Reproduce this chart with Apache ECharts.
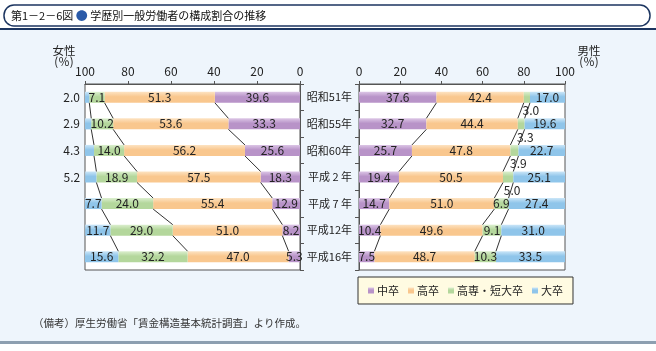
<!DOCTYPE html>
<html>
<head>
<meta charset="utf-8">
<script src="https://cdn.jsdelivr.net/npm/echarts@6/dist/echarts.min.js"></script>
<style>
  html, body { margin: 0; padding: 0; background: #fff; }
  #chart { width: 656px; height: 351px; }
</style>
</head>
<body>
<div id="chart"></div>
<script>
// rows, top to bottom
var categories = ['昭和51年', '昭和55年', '昭和60年', '平成 2 年', '平成 7 年', '平成12年', '平成16年'];
var seriesNames = ['中卒', '高卒', '高専・短大卒', '大卒'];

// 女性 (%)
var femaleJunior  = [39.6, 33.3, 25.6, 18.3, 12.9, 8.2, 5.3];
var femaleHigh    = [51.3, 53.6, 56.2, 57.5, 55.4, 51.0, 47.0];
var femaleCollege = [7.1, 10.2, 14.0, 18.9, 24.0, 29.0, 32.2];
var femaleUniv    = [2.0, 2.9, 4.3, 5.2, 7.7, 11.7, 15.6];

// 男性 (%)
var maleJunior  = [37.6, 32.7, 25.7, 19.4, 14.7, 10.4, 7.5];
var maleHigh    = [42.4, 44.4, 47.8, 50.5, 51.0, 49.6, 48.7];
var maleCollege = [3.0, 3.3, 3.9, 5.0, 6.9, 9.1, 10.3];
var maleUniv    = [17.0, 19.6, 22.7, 25.1, 27.4, 31.0, 33.5];

var colors = ['#b893c8', '#f9c78e', '#b4d79c', '#8fc5ea'];
var lightColors = ['#dcc6e6', '#fde3c2', '#dcefcf', '#cbe6f8'];
var barH = 11;

function barColor(k) {
    return new echarts.graphic.LinearGradient(0, 0, 0, 1, [
        { offset: 0, color: lightColors[k] },
        { offset: 0.45, color: colors[k] },
        { offset: 1, color: colors[k] }
    ]);
}

// narrow bars get their label moved outside
function withLabels(values, outsidePos, limit) {
    return values.map(function (v) {
        if (outsidePos && v < limit) {
            return { value: v, label: outsidePos };
        }
        return v;
    });
}

function barSeries(name, k, values, axis, stack, outsidePos) {
    return {
        name: name,
        type: 'bar',
        stack: stack,
        xAxisIndex: axis,
        yAxisIndex: axis,
        barWidth: barH,
        data: withLabels(values, outsidePos, 6),
        itemStyle: { color: barColor(k) },
        label: {
            show: true,
            position: 'inside',
            color: '#222',
            fontSize: 12,
            fontFamily: 'Noto Sans CJK JP',
            formatter: function (p) { return Number(p.value).toFixed(1); }
        },
        emphasis: { disabled: true }
    };
}

// boundaries between stacked parts, for connector lines
function connectorData(parts) {
    var out = [];
    var n = parts[0].length;
    for (var k = 1; k < parts.length; k++) {
        var cum = [];
        for (var i = 0; i < n; i++) {
            var s = 0;
            for (var j = 0; j < k; j++) s += parts[j][i];
            cum.push(s);
        }
        for (var i = 0; i < n - 1; i++) {
            out.push([cum[i], i, cum[i + 1], i + 1]);
        }
    }
    return out;
}

function connectorSeries(parts, axis) {
    return {
        type: 'custom',
        xAxisIndex: axis,
        yAxisIndex: axis,
        silent: true,
        data: connectorData(parts),
        encode: { x: [0, 2], y: [1, 3] },
        renderItem: function (params, api) {
            var a = api.coord([api.value(0), api.value(1)]);
            var b = api.coord([api.value(2), api.value(3)]);
            return {
                type: 'line',
                shape: { x1: a[0], y1: a[1] + barH / 2, x2: b[0], y2: b[1] - barH / 2 },
                style: { stroke: '#333', lineWidth: 1 }
            };
        },
        z: 3
    };
}

var femaleParts = [femaleJunior, femaleHigh, femaleCollege, femaleUniv];
var maleParts = [maleJunior, maleHigh, maleCollege, maleUniv];

var axisText = { color: '#222', fontSize: 12, fontFamily: 'Noto Sans CJK JP' };
var lineStyle = { color: '#555', width: 1 };

var chart = echarts.init(document.getElementById('chart'));

var series = [];
for (var k = 0; k < 4; k++) {
    series.push(barSeries(seriesNames[k], k, femaleParts[k], 0, 'f',
        k === 3 ? { position: 'left', distance: 5 } : null));
}
for (var k = 0; k < 4; k++) {
    series.push(barSeries(seriesNames[k], k, maleParts[k], 1, 'm',
        k === 2 ? { position: 'bottom', distance: 2, offset: [4, 0] } : null));
}
series.push(connectorSeries(femaleParts, 0));
series.push(connectorSeries(maleParts, 1));

var option = {
    backgroundColor: '#fff',
    animation: false,
    textStyle: { fontFamily: 'Noto Sans CJK JP' },
    grid: [
        { left: 85, top: 84, width: 215, height: 186, show: true, backgroundColor: '#fff', borderColor: '#555', borderWidth: 1 },
        { left: 359, top: 84, width: 206, height: 186, show: true, backgroundColor: '#fff', borderColor: '#555', borderWidth: 1 }
    ],
    xAxis: [
        {
            gridIndex: 0, type: 'value', min: 0, max: 100, interval: 20, inverse: true, position: 'top',
            axisLine: { show: true, lineStyle: lineStyle },
            axisTick: { show: true, length: 3, lineStyle: lineStyle },
            axisLabel: Object.assign({ margin: 7 }, axisText),
            splitLine: { show: false }
        },
        {
            gridIndex: 1, type: 'value', min: 0, max: 100, interval: 20, position: 'top',
            axisLine: { show: true, lineStyle: lineStyle },
            axisTick: { show: true, length: 3, lineStyle: lineStyle },
            axisLabel: Object.assign({ margin: 7 }, axisText),
            splitLine: { show: false }
        }
    ],
    yAxis: [
        {
            gridIndex: 0, type: 'category', data: categories, inverse: true, position: 'right',
            axisLine: { show: true, lineStyle: lineStyle },
            axisTick: { show: true, length: 4, lineStyle: lineStyle },
            axisLabel: { show: false }
        },
        {
            gridIndex: 1, type: 'category', data: categories, inverse: true, position: 'left',
            axisLine: { show: true, lineStyle: lineStyle },
            axisTick: { show: true, length: 4, lineStyle: lineStyle },
            axisLabel: Object.assign({}, axisText, { margin: 7, fontSize: 11 })
        }
    ],
    legend: {
        data: seriesNames,
        left: 358,
        top: 277,
        width: 207,
        padding: [8, 10, 8, 10],
        itemGap: 9,
        itemWidth: 6,
        itemHeight: 6,
        icon: 'rect',
        backgroundColor: '#fffbe2',
        borderColor: '#333',
        borderWidth: 1,
        borderRadius: 0,
        selectedMode: false,
        textStyle: { color: '#222', fontSize: 11, fontFamily: 'Noto Sans CJK JP', padding: [0, 0, 0, -2] }
    },
    graphic: [
        { type: 'rect', z: -10, silent: true, shape: { x: 0, y: 30, width: 656, height: 311 }, style: { fill: '#eef5fc' } },
        { type: 'rect', z: -9, silent: true, shape: { x: 0, y: 341, width: 656, height: 3 }, style: { fill: '#8d9fb0' } },
        { type: 'line', z: -9, silent: true, shape: { x1: 0, y1: 29, x2: 656, y2: 29 }, style: { stroke: '#1c3560', lineWidth: 2 } },
        { type: 'rect', z: -8, silent: true, shape: { x: 4, y: 5, width: 646, height: 21, r: 10 }, style: { fill: '#fff', stroke: '#1c3560', lineWidth: 1.5 } },
        {
            type: 'text', silent: true, x: 11, y: 16,
            style: {
                text: '{a|第1－2－6図 }{b|●}{a| 学歴別一般労働者の構成割合の推移}',
                verticalAlign: 'middle',
                rich: {
                    a: { fontSize: 11, fill: '#111', fontFamily: 'Noto Sans CJK JP' },
                    b: { fontSize: 12, fill: '#2a5aa8', fontFamily: 'Noto Sans CJK JP' }
                }
            }
        },
        {
            type: 'text', silent: true, x: 64, y: 45,
            style: { text: '女性\n(％)', align: 'center', fontSize: 11.5, lineHeight: 11, fill: '#222', fontFamily: 'Noto Sans CJK JP' }
        },
        {
            type: 'text', silent: true, x: 589, y: 45,
            style: { text: '男性\n(％)', align: 'center', fontSize: 11.5, lineHeight: 11, fill: '#222', fontFamily: 'Noto Sans CJK JP' }
        },
        {
            type: 'text', silent: true, x: 33, y: 323,
            style: { text: '（備考）厚生労働省「賃金構造基本統計調査」より作成。', verticalAlign: 'middle', fontSize: 10.5, fill: '#333', fontFamily: 'Noto Sans CJK JP' }
        }
    ],
    series: series
};

chart.setOption(option);
</script>
</body>
</html>
